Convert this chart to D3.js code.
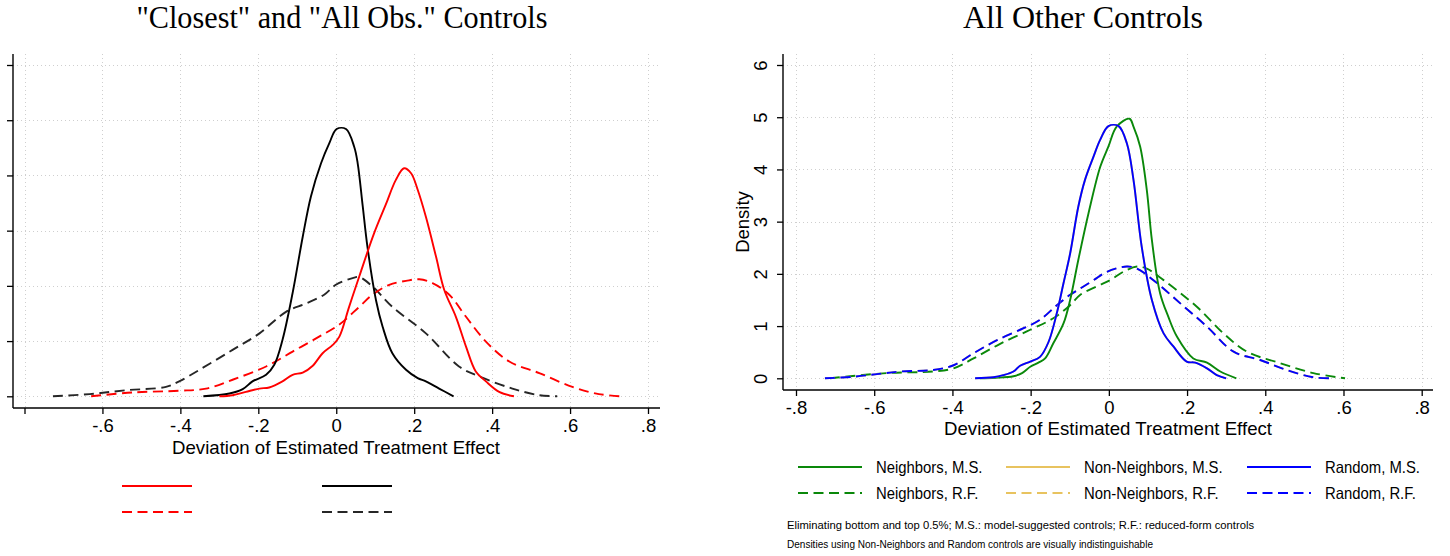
<!DOCTYPE html>
<html>
<head>
<meta charset="utf-8">
<script src="https://cdn.jsdelivr.net/npm/d3@7"></script>
<style>
  html, body { margin: 0; padding: 0; background: #fff; }
  svg { display: block; }
</style>
</head>
<body>
<svg id="chart" width="1450" height="556"></svg>
<script>
// Kernel density estimates of the deviation of the estimated treatment effect.
// Each series is a list of [deviation, density] points.

// Left panel: "Closest" and "All Obs." controls
const closestMS = [[-0.300,0],[-0.266,0.02],[-0.232,0.08],[-0.197,0.14],[-0.172,0.16],[-0.138,0.27],[-0.112,0.39],[-0.086,0.43],[-0.061,0.55],[-0.035,0.78],[-0.009,0.93],[0.008,1.08],[0.033,1.62],[0.059,2.17],[0.097,2.95],[0.127,3.47],[0.153,3.92],[0.174,4.13],[0.192,4.04],[0.209,3.74],[0.230,3.25],[0.256,2.53],[0.277,1.93],[0.307,1.44],[0.333,0.90],[0.358,0.45],[0.384,0.27],[0.418,0.08],[0.456,0]];
const closestRF = [[-0.629,0],[-0.522,0.07],[-0.403,0.10],[-0.334,0.14],[-0.266,0.30],[-0.180,0.54],[-0.112,0.81],[-0.044,1.08],[0.008,1.30],[0.059,1.62],[0.093,1.84],[0.136,2.02],[0.179,2.09],[0.213,2.12],[0.247,2.05],[0.290,1.84],[0.333,1.44],[0.384,0.99],[0.444,0.63],[0.521,0.42],[0.606,0.17],[0.674,0.04],[0.730,0]];
const allObsMS = [[-0.341,0],[-0.274,0.05],[-0.240,0.13],[-0.215,0.27],[-0.180,0.39],[-0.159,0.57],[-0.138,1.02],[-0.112,1.87],[-0.086,2.89],[-0.065,3.62],[-0.039,4.22],[-0.018,4.58],[0.001,4.84],[0.025,4.84],[0.046,4.52],[0.055,4.22],[0.068,3.44],[0.080,2.71],[0.102,1.74],[0.119,1.26],[0.144,0.78],[0.179,0.48],[0.209,0.33],[0.230,0.27],[0.264,0.14],[0.301,0]];
const allObsRF = [[-0.727,0],[-0.633,0.04],[-0.539,0.11],[-0.437,0.17],[-0.403,0.27],[-0.351,0.48],[-0.266,0.84],[-0.197,1.14],[-0.129,1.53],[-0.078,1.68],[-0.031,1.84],[-0.001,2.02],[0.042,2.14],[0.059,2.16],[0.093,1.99],[0.144,1.62],[0.230,1.14],[0.315,0.54],[0.367,0.36],[0.452,0.14],[0.521,0.02],[0.567,0]];

// Right panel: all other controls
const neighborsMS = [[-0.330,0],[-0.290,0.01],[-0.244,0.04],[-0.222,0.10],[-0.201,0.22],[-0.180,0.30],[-0.163,0.38],[-0.142,0.67],[-0.116,1.05],[-0.099,1.50],[-0.078,2.27],[-0.052,3.16],[-0.022,4.05],[-0.001,4.44],[0.020,4.82],[0.053,4.97],[0.063,4.82],[0.080,4.44],[0.097,3.61],[0.110,2.65],[0.131,1.63],[0.152,1.18],[0.174,0.80],[0.216,0.38],[0.251,0.30],[0.285,0.13],[0.326,0]];
const neighborsRF = [[-0.713,0],[-0.568,0.10],[-0.449,0.13],[-0.397,0.19],[-0.346,0.38],[-0.278,0.66],[-0.201,0.93],[-0.142,1.15],[-0.099,1.40],[-0.073,1.60],[-0.031,1.76],[0.003,1.88],[0.037,2.04],[0.072,2.14],[0.097,2.10],[0.140,1.88],[0.225,1.37],[0.293,0.86],[0.353,0.51],[0.438,0.29],[0.523,0.10],[0.604,0]];
const randomMS = [[-0.342,0],[-0.295,0.02],[-0.270,0.06],[-0.244,0.13],[-0.227,0.24],[-0.201,0.32],[-0.176,0.41],[-0.154,0.70],[-0.133,1.25],[-0.116,1.82],[-0.099,2.39],[-0.078,3.29],[-0.061,3.80],[-0.039,4.25],[-0.022,4.57],[-0.001,4.83],[0.025,4.83],[0.046,4.50],[0.063,3.80],[0.084,2.52],[0.110,1.50],[0.140,0.86],[0.165,0.61],[0.199,0.32],[0.221,0.30],[0.251,0.19],[0.276,0.06],[0.300,0]];
const randomRF = [[-0.726,0],[-0.653,0.03],[-0.593,0.08],[-0.534,0.13],[-0.449,0.16],[-0.397,0.25],[-0.346,0.48],[-0.286,0.73],[-0.218,0.96],[-0.176,1.12],[-0.133,1.40],[-0.099,1.60],[-0.073,1.72],[-0.039,1.88],[-0.005,2.04],[0.046,2.14],[0.072,2.10],[0.114,1.88],[0.182,1.44],[0.251,0.99],[0.319,0.51],[0.387,0.35],[0.455,0.16],[0.523,0.02],[0.574,0]];
// Non-Neighbors densities coincide with the Random ones at this scale
const nonNeighborsMS = randomMS;
const nonNeighborsRF = randomRF;

// Axis ticks
const xTicks = [-0.8, -0.6, -0.4, -0.2, 0, 0.2, 0.4, 0.6, 0.8];
const yTicks = [0, 1, 2, 3, 4, 5, 6];
const fmtX = v => v === 0 ? "0" : (v < 0 ? "-" : "") + String(Math.abs(v)).replace(/^0/, "");
const leftXLabels = xTicks.map(v => v === -0.8 ? "" : fmtX(v));

const titles = ["\"Closest\" and \"All Obs.\" Controls", "All Other Controls"];
const xTitle = "Deviation of Estimated Treatment Effect";
const yTitle = "Density";
const legendLabels = ["Neighbors, M.S.", "Non-Neighbors, M.S.", "Random, M.S.",
                      "Neighbors, R.F.", "Non-Neighbors, R.F.", "Random, R.F."];
const notes = ["Eliminating bottom and top 0.5%; M.S.: model-suggested controls; R.F.: reduced-form controls",
               "Densities using Non-Neighbors and Random controls are visually indistinguishable"];

const COL = { red: "#ff0000", black: "#000000", dgray: "#262626", green: "#0a880a", sand: "#e8c35f", blue: "#0000ff" };
const DASH = "10,5.5";
const SANS = "'Liberation Sans', Arial, sans-serif";
const SERIF = "'Liberation Serif', 'Times New Roman', serif";

const svg = d3.select("#chart");

// Narrow a text element horizontally by a factor, keeping its anchor.
function squeeze(sel, k) {
  sel.each(function () {
    const w = this.getComputedTextLength();
    d3.select(this).attr("textLength", w * k).attr("lengthAdjust", "spacingAndGlyphs");
  });
}

function panel(cfg) {
  const g = svg.append("g");
  const x = d3.scaleLinear().domain([-0.8, 0.8]).range(cfg.xRange);
  const y = d3.scaleLinear().domain([0, 6]).range(cfg.yRange);

  // dotted grid
  const grid = g.append("g").attr("stroke", "#cfcfcf").attr("stroke-width", 1).attr("stroke-dasharray", "1,3");
  grid.selectAll("line.v").data(xTicks).join("line")
    .attr("x1", d => Math.round(x(d)) + 0.5).attr("x2", d => Math.round(x(d)) + 0.5)
    .attr("y1", cfg.gridTop).attr("y2", cfg.axisY);
  grid.selectAll("line.h").data(yTicks).join("line")
    .attr("y1", d => Math.round(y(d)) + 0.5).attr("y2", d => Math.round(y(d)) + 0.5)
    .attr("x1", cfg.axisX).attr("x2", cfg.gridRight);

  // axes
  const xAxis = d3.axisBottom(x).tickValues(xTicks).tickSize(6).tickSizeOuter(0)
    .tickFormat((d, i) => cfg.xLabels[i]);
  const xg = g.append("g").attr("transform", `translate(0,${cfg.axisY})`).call(xAxis);
  xg.select(".domain").remove();
  xg.append("line").attr("x1", cfg.axisX).attr("x2", cfg.axisRight).attr("y1", 0).attr("y2", 0)
    .attr("stroke", "#000").attr("stroke-width", 1.4);
  xg.selectAll(".tick line").attr("stroke", "#000").attr("stroke-width", 1.3);
  xg.selectAll(".tick text").attr("font-family", SANS).attr("font-size", 18.5).attr("fill", "#000").attr("dy", "0.71em").attr("y", 11);

  const yAxis = d3.axisLeft(y).tickValues(yTicks).tickSize(6).tickSizeOuter(0)
    .tickFormat(cfg.yLabels ? d3.format("d") : () => "");
  const yg = g.append("g").attr("transform", `translate(${cfg.axisX},0)`).call(yAxis);
  yg.select(".domain").remove();
  yg.append("line").attr("x1", 0).attr("x2", 0).attr("y1", cfg.axisTop).attr("y2", cfg.axisY)
    .attr("stroke", "#000").attr("stroke-width", 1.4);
  yg.selectAll(".tick line").attr("stroke", "#000").attr("stroke-width", 1.3);
  if (cfg.yLabels) {
    yg.selectAll(".tick text")
      .attr("font-family", SANS).attr("font-size", 18.5).attr("fill", "#000")
      .attr("x", null).attr("dy", null)
      .attr("text-anchor", "middle").attr("dominant-baseline", "central")
      .attr("transform", "translate(-23,0) rotate(-90)");
  }

  // density curves
  const line = d3.line().x(d => x(d[0])).y(d => y(d[1])).curve(d3.curveCatmullRom.alpha(0.5));
  g.append("g").attr("fill", "none").attr("stroke-linejoin", "round")
    .selectAll("path").data(cfg.series).join("path")
    .attr("d", s => line(s.data))
    .attr("stroke", s => s.color)
    .attr("stroke-width", 1.9)
    .attr("stroke-dasharray", s => s.dash ? DASH : null);

  // title
  svg.append("text").attr("x", cfg.titleX).attr("y", 28).attr("text-anchor", "middle")
    .attr("font-family", SERIF).attr("font-size", 31).attr("fill", "#000")
    .attr("textLength", cfg.titleLen).attr("lengthAdjust", "spacingAndGlyphs")
    .text(cfg.title);

  // x-axis title
  svg.append("text").attr("x", cfg.xTitleX).attr("y", cfg.xTitleY).attr("text-anchor", "middle")
    .attr("font-family", SANS).attr("font-size", 18.5).attr("fill", "#000")
    .attr("textLength", 328).attr("lengthAdjust", "spacingAndGlyphs").text(xTitle);
  return { x, y };
}

panel({
  xRange: [24.5, 648], yRange: [396.3, 65],
  axisX: 13, axisY: 408, axisTop: 54, axisRight: 660, gridTop: 54, gridRight: 658,
  xLabels: leftXLabels, yLabels: false,
  series: [
    { data: allObsRF, color: COL.dgray, dash: true },
    { data: closestRF, color: COL.red, dash: true },
    { data: allObsMS, color: COL.black, dash: false },
    { data: closestMS, color: COL.red, dash: false }
  ],
  title: titles[0], titleX: 342, titleLen: 411,
  xTitleX: 336, xTitleY: 454
});

panel({
  xRange: [796, 1421.7], yRange: [378.3, 65],
  axisX: 783, axisY: 390, axisTop: 54, axisRight: 1433, gridTop: 54, gridRight: 1433,
  xLabels: xTicks.map(fmtX), yLabels: true,
  series: [
    { data: neighborsRF, color: COL.green, dash: true },
    { data: nonNeighborsRF, color: COL.sand, dash: true },
    { data: randomRF, color: COL.blue, dash: true },
    { data: neighborsMS, color: COL.green, dash: false },
    { data: nonNeighborsMS, color: COL.sand, dash: false },
    { data: randomMS, color: COL.blue, dash: false }
  ],
  title: titles[1], titleX: 1083, titleLen: 240,
  xTitleX: 1108, xTitleY: 435
});

// y-axis title of the right panel
svg.append("text").attr("transform", "translate(742,222) rotate(-90)")
  .attr("text-anchor", "middle").attr("dominant-baseline", "central")
  .attr("font-family", SANS).attr("font-size", 18.5).attr("fill", "#000").text(yTitle);

// Left legend: line keys only
const leftKeys = [
  { x: 122, y: 486, color: COL.red, dash: false },
  { x: 322, y: 486, color: COL.black, dash: false },
  { x: 122, y: 512, color: COL.red, dash: true },
  { x: 322, y: 512, color: COL.dgray, dash: true }
];
svg.append("g").selectAll("line").data(leftKeys).join("line")
  .attr("x1", d => d.x).attr("x2", d => d.x + 70).attr("y1", d => d.y).attr("y2", d => d.y)
  .attr("stroke", d => d.color).attr("stroke-width", 1.9)
  .attr("stroke-dasharray", d => d.dash ? DASH : null);

// Right legend: 3 columns x 2 rows
const legendColors = [COL.green, COL.sand, COL.blue, COL.green, COL.sand, COL.blue];
const colX = [798, 1006, 1247];
const rowY = [467, 493];
const leg = svg.append("g").selectAll("g").data(legendLabels).join("g")
  .attr("transform", (d, i) => `translate(${colX[i % 3]},${rowY[Math.floor(i / 3)]})`);
leg.append("line").attr("x1", 0).attr("x2", 64).attr("y1", 0).attr("y2", 0)
  .attr("stroke", (d, i) => legendColors[i]).attr("stroke-width", 1.9)
  .attr("stroke-dasharray", (d, i) => i >= 3 ? DASH : null);
leg.append("text").attr("x", 78).attr("y", 0).attr("dominant-baseline", "central")
  .attr("font-family", SANS).attr("font-size", 16.5).attr("fill", "#000").text(d => d)
  .call(squeeze, 0.9);

// Notes
svg.append("g").selectAll("text").data(notes).join("text")
  .attr("x", 787).attr("y", (d, i) => 529 + i * 19)
  .attr("font-family", SANS).attr("font-size", 11.5).attr("fill", "#000")
  .attr("textLength", (d, i) => [467, 366][i]).attr("lengthAdjust", "spacingAndGlyphs")
  .text(d => d);
</script>
</body>
</html>
